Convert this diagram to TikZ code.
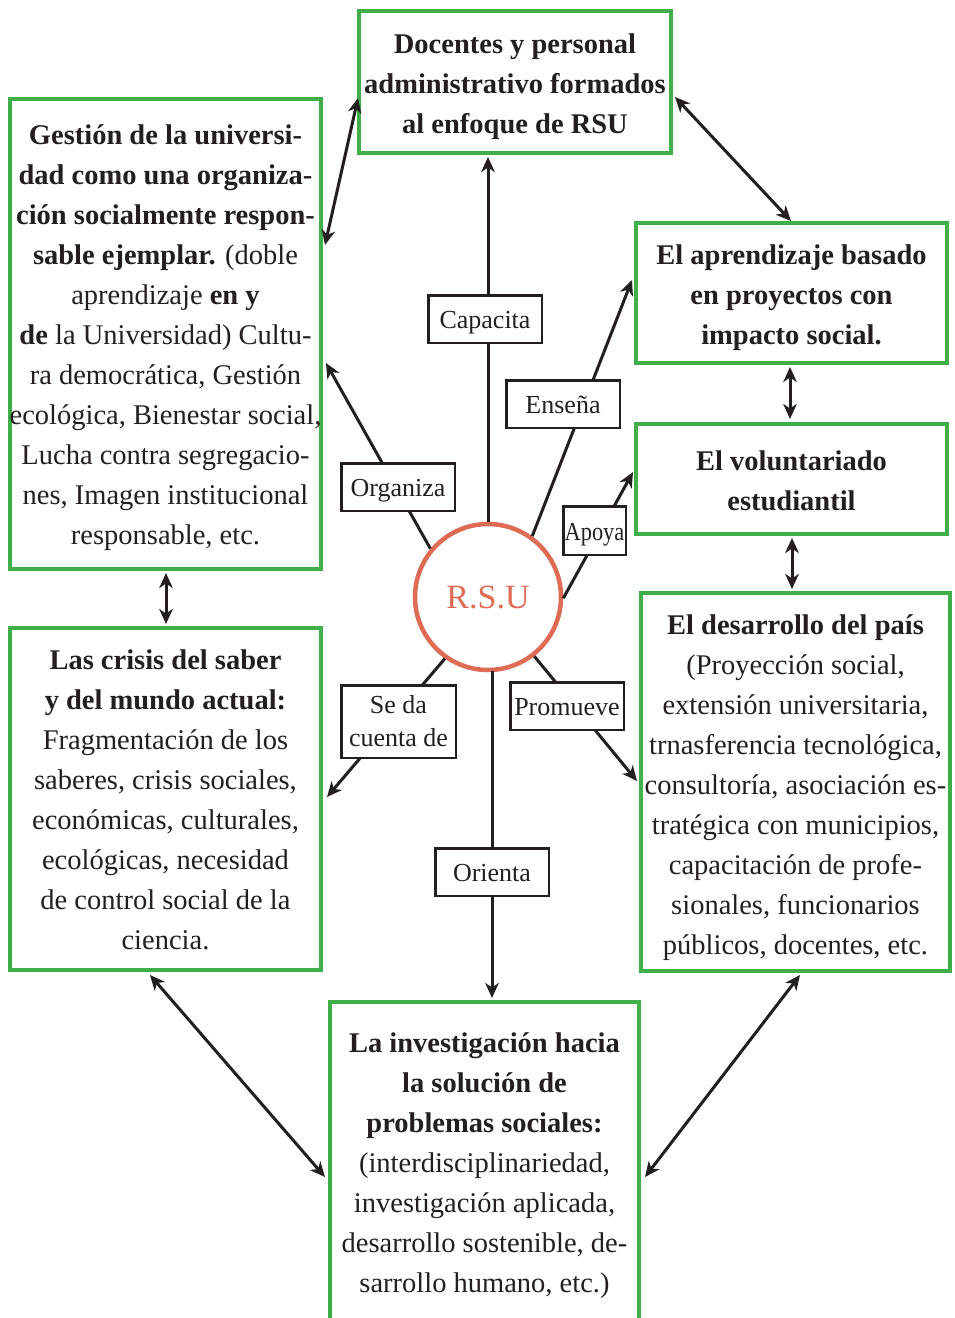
\documentclass[tikz,border=0pt]{standalone}
\usepackage{fontspec}
\setmainfont{Liberation Serif}
\usetikzlibrary{arrows.meta,calc}
\definecolor{boxgreen}{RGB}{64,174,73}
\definecolor{rsuorange}{RGB}{222,107,83}
\definecolor{inkblack}{RGB}{35,31,32}
\tikzset{myTip/.tip={Stealth[length=15pt,width=13.5pt,inset=4.5pt]}}
\begin{document}
\begin{tikzpicture}[x=1pt,y=-1pt,
  gbox/.style={draw=boxgreen, line width=4pt, fill=white, inner sep=0pt},
  gtext/.style={inner sep=0pt, align=center, text=inkblack, font=\fontsize{28.5}{40}\selectfont},
  lbox/.style={draw=inkblack, line width=2.5pt, fill=white, inner sep=0pt, align=center,
    text=inkblack, minimum width=113.5pt, minimum height=47.5pt, text height=22pt, text depth=3pt,
    font=\fontsize{26}{33}\selectfont},
  conn/.style={draw=inkblack, line width=3pt, -{myTip}},
  dconn/.style={draw=inkblack, line width=3pt, {myTip}-{myTip}}
]
\useasboundingbox (0,0) rectangle (954,1318);
\clip (0,0) rectangle (954,1318);

% green boxes
\node[gbox, minimum width=312pt, minimum height=142pt] (doc) at (515,82) {};
\node[gbox, minimum width=311pt, minimum height=470pt] (ges) at (165.5,334) {};
\node[gbox, minimum width=311pt, minimum height=140pt] (apr) at (791.5,293) {};
\node[gbox, minimum width=311pt, minimum height=110pt] (vol) at (791.5,479) {};
\node[gbox, minimum width=309pt, minimum height=378pt] (des) at (795.5,782) {};
\node[gbox, minimum width=311pt, minimum height=342pt] (cri) at (165.5,799) {};
\node[gbox, minimum width=309pt, minimum height=334pt] (inv) at (484.5,1169) {};

% texts of the green boxes
\node[gtext] (docT) at ($(doc.center)+(0,5)$)
 {\textbf{Docentes y personal}\\\textbf{administrativo formados}\\\textbf{al enfoque de RSU}};
\node[gtext] (gesT) at ($(ges.center)+(0,4)$)
 {\textbf{Gestión de la universi-}\\
  \textbf{dad como una organiza-}\\
  \textbf{ción socialmente respon-}\\
  \textbf{sable ejemplar.} (doble\\
  aprendizaje \textbf{en y}\\
  \textbf{de} la Universidad) Cultu-\\
  ra democrática, Gestión\\
  ecológica, Bienestar social,\\
  Lucha contra segregacio-\\
  nes, Imagen institucional\\
  responsable, etc.};
\node[gtext] (aprT) at ($(apr.center)+(0,5)$)
 {\textbf{El aprendizaje basado}\\\textbf{en proyectos con}\\\textbf{impacto social.}};
\node[gtext] (volT) at ($(vol.center)+(0,2)$)
 {\textbf{El voluntariado}\\\textbf{estudiantil}};
\node[gtext] (desT) at ($(des.center)+(0,6)$)
 {\textbf{El desarrollo del país}\\
  (Proyección social,\\
  extensión universitaria,\\
  trnasferencia tecnológica,\\
  consultoría, asociación es-\\
  tratégica con municipios,\\
  capacitación de profe-\\
  sionales, funcionarios\\
  públicos, docentes, etc.};
\node[gtext] (criT) at ($(cri.center)+(0,1)$)
 {\textbf{Las crisis del saber}\\
  \textbf{y del mundo actual:}\\
  Fragmentación de los\\
  saberes, crisis sociales,\\
  económicas, culturales,\\
  ecológicas, necesidad\\
  de control social de la\\
  ciencia.};
\node[gtext] (invT) at ($(inv.center)+(0,-3)$)
 {\textbf{La investigación hacia}\\
  \textbf{la solución de}\\
  \textbf{problemas sociales:}\\
  (interdisciplinariedad,\\
  investigación aplicada,\\
  desarrollo sostenible, de-\\
  sarrollo humano, etc.)};

% central circle
\node[circle, draw=rsuorange, line width=4.5pt, fill=white, minimum size=146pt, inner sep=0pt,
  text=rsuorange, font=\fontsize{34}{36}\selectfont] (rsu) at (488,597) {R.S.U};

% free ends of connectors
\coordinate (tCap) at (488,157);
\coordinate (tEns) at (632,280);
\coordinate (tOrg) at (326,363);
\coordinate (tApo) at (633,472);
\coordinate (tSe)  at (327,797);
\coordinate (tPro) at (637,781);
\coordinate (tOri) at (492,998);
\coordinate (sOri) at (492,671);

% double arrows ends
\coordinate (a1) at (325,245); \coordinate (a2) at (358,98);
\coordinate (b1) at (675,97);  \coordinate (b2) at (791,221);
\coordinate (c1) at (790,367); \coordinate (c2) at (790,419);
\coordinate (d1) at (792,538); \coordinate (d2) at (792,589);
\coordinate (e1) at (166,573); \coordinate (e2) at (166,624);
\coordinate (f1) at (150,975); \coordinate (f2) at (325,1177);
\coordinate (g1) at (800,975); \coordinate (g2) at (645,1177);

% connectors from R.S.U
\draw[conn] (rsu.north) -- (tCap);
\draw[conn] (rsu.54) -- (tEns);
\draw[conn] (rsu.140) -- (tOrg);
\draw[conn] (rsu.-1) -- (tApo);
\draw[conn] (rsu.235) -- (tSe);
\draw[conn] (rsu.308) -- (tPro);
\draw[conn] (sOri) -- (tOri);

% double connectors between boxes
\draw[dconn] (a1) -- (a2);
\draw[dconn] (b1) -- (b2);
\draw[dconn] (c1) -- (c2);
\draw[dconn] (d1) -- (d2);
\draw[dconn] (e1) -- (e2);
\draw[dconn] (f1) -- (f2);
\draw[dconn] (g1) -- (g2);

% labels on connectors
\node[lbox] (lCap) at (485,319) {Capacita};
\node[lbox] (lEns) at (563,404) {Enseña};
\node[lbox] (lOrg) at (398,487) {Organiza};
\node[lbox, minimum width=62.5pt, minimum height=48.5pt] (lApo) at (594.5,530.5) {\scalebox{0.86}[1]{Apoya}};
\node[lbox, minimum width=114.5pt, minimum height=72.5pt, text height=, text depth=] (lSe) at (398.5,721.5) {Se da\\cuenta de};
\node[lbox] (lPro) at (567,706) {Promueve};
\node[lbox] (lOri) at (492,872) {Orienta};
\end{tikzpicture}
\end{document}
